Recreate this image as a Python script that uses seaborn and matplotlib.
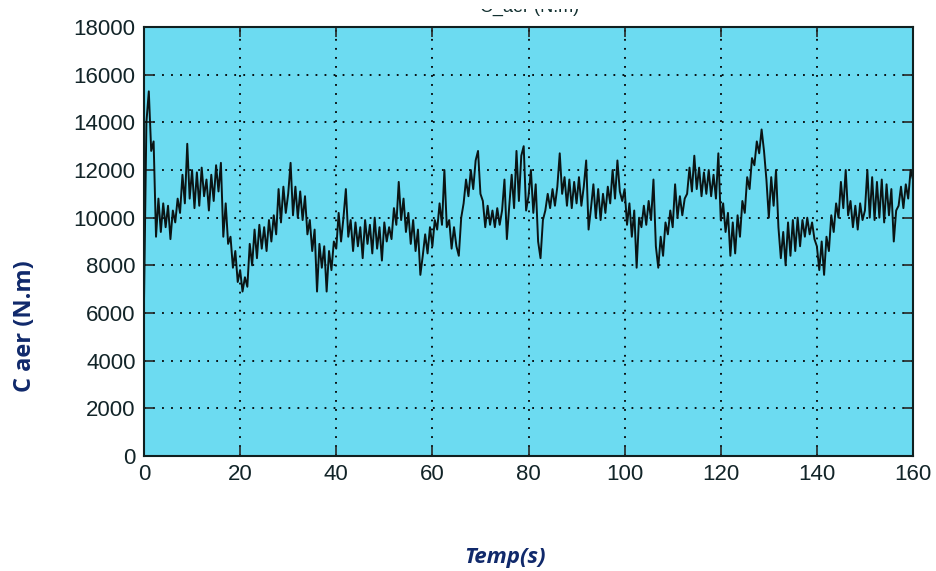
import numpy as np
import pandas as pd
import seaborn as sns
import matplotlib.pyplot as plt
from matplotlib.patches import Rectangle

# couple aerodynamique (N.m), one value every 0.5 s from 0 to 160 s
c_aer = [
    6500, 14000, 15300, 12800, 13200, 9200, 10800, 9400, 10600, 9600,
    10500, 9100, 10300, 9800, 10800, 10200, 11800, 10600, 13100, 10800,
    12000, 10400, 11900, 10500, 12100, 10900, 11600, 10300, 11800, 10700,
    12200, 11100, 12300, 9200, 10600, 8900, 9200, 7900, 8600, 7300,
    7800, 6900, 7500, 7100, 8900, 8000, 9500, 8300, 9700, 8700,
    9600, 8600, 9900, 9000, 10100, 9300, 11200, 9800, 11300, 10200,
    11000, 12300, 10100, 11300, 10000, 11100, 9900, 10900, 9300, 9900,
    8600, 9500, 6900, 8900, 7900, 8800, 6900, 8600, 7800, 9000,
    8700, 10200, 9000, 10000, 11200, 9200, 9900, 8600, 9800, 8800,
    9600, 8300, 9900, 8900, 9700, 8500, 10000, 8700, 9600, 8200,
    9800, 9000, 9600, 9100, 10400, 9700, 11500, 9900, 10800, 9400,
    10200, 8900, 9900, 8600, 9500, 7600, 8400, 9300, 8500, 9600,
    8800, 9900, 9500, 10600, 9700, 12000, 9600, 9900, 8700, 9600,
    8800, 8400, 10000, 10600, 11600, 10900, 12000, 11200, 12400, 12800,
    11000, 10700, 9600, 10500, 9700, 10300, 9600, 10400, 9700, 10300,
    11600, 9100, 10500, 11800, 10400, 12800, 10700, 12600, 13000, 10300,
    10900, 12000, 10200, 11400, 9000, 8300, 9900, 10300, 11000, 10400,
    11200, 10500, 11300, 12700, 11000, 11700, 10500, 11600, 10400, 11500,
    10600, 11700, 10500, 11300, 12400, 9500, 10400, 11400, 10000, 11200,
    9900, 11000, 10200, 11300, 10600, 12000, 10800, 12400, 11100, 10700,
    11200, 9700, 10600, 9200, 10300, 7900, 10000, 9600, 10500, 9700,
    10700, 9900, 11600, 8800, 7900, 9200, 8400, 9800, 9300, 10300,
    9600, 11400, 10000, 10900, 10100, 10800, 11000, 12100, 11100, 12600,
    11200, 12100, 10900, 11900, 11000, 12000, 10900, 11800, 10800, 12700,
    9900, 10600, 9400, 10200, 8400, 9800, 8500, 10100, 9200, 10700,
    10200, 11700, 11200, 12500, 12200, 13200, 12700, 13700, 12800, 11600,
    10000, 11700, 10500, 12000, 9600, 8300, 9400, 8000, 9800, 8400,
    9900, 8600, 10000, 8800, 9900, 9200, 10000, 9300, 9800, 9100,
    8800, 7800, 9000, 7600, 9200, 8600, 10100, 9400, 10600, 10000,
    11500, 10400, 12000, 10100, 10700, 9600, 10500, 9500, 10600, 9900,
    10300, 12000, 10000, 11700, 9900, 11500, 10000, 11600, 9800, 11400,
    10100, 11200, 9000, 10300, 10500, 11300, 10400, 11400, 10800, 12000,
    11600,
]
temps = np.arange(len(c_aer)) * 0.5

x_ticks = list(range(0, 161, 20))
y_ticks = list(range(0, 18001, 2000))

df = pd.DataFrame({"temps": temps, "c_aer": c_aer})

sns.set_style("ticks")
plt.rcParams["font.family"] = ["Liberation Sans", "DejaVu Sans"]

fig = plt.figure(figsize=(9.36, 5.71), dpi=100)
ax = fig.add_axes([144 / 936, 1 - 456 / 571, (913 - 144) / 936, (456 - 27) / 571])
ax.set_facecolor("#6cdbf1")

sns.lineplot(data=df, x="temps", y="c_aer", ax=ax, color="#0b1414",
             linewidth=1.4, sort=False, estimator=None)

ax.set_xlim(0, 160)
ax.set_ylim(0, 18000)
ax.set_xticks(x_ticks)
ax.set_yticks(y_ticks)
ax.grid(True, color="black", linestyle=(0, (1, 4)), linewidth=1.3)
ax.tick_params(direction="in", length=7, width=1.2, top=True, right=True,
               labelsize=16, labelcolor="#122428", pad=6)
for s in ax.spines.values():
    s.set_linewidth(1.5)
    s.set_color("#102020")
ax.set_xlabel("")
ax.set_ylabel("")

navy = "#10296b"
fig.text(25 / 936, 1 - 326 / 571, "C aer (N.m)", rotation=90, ha="center", va="center",
         fontsize=17, fontweight="bold", color=navy, family=["Open Sans", "DejaVu Sans"])
fig.text(505 / 936, 1 - 557 / 571, "Temp(s)", ha="center", va="center",
         fontsize=16, fontweight="bold", fontstyle="italic", color=navy,
         family=["Open Sans", "DejaVu Sans"])

# title mostly cropped off at the top of the picture
fig.text(530 / 936, 1 - 12 / 571, "C_aer (N.m)", ha="center", va="baseline",
         fontsize=13, color="#123030", family=["Liberation Sans", "DejaVu Sans"], zorder=3)
fig.add_artist(Rectangle((0, 1 - 9 / 571), 1, 9 / 571, transform=fig.transFigure,
                         facecolor="white", edgecolor="none", zorder=10))

fig.savefig("out.png", dpi=100)
